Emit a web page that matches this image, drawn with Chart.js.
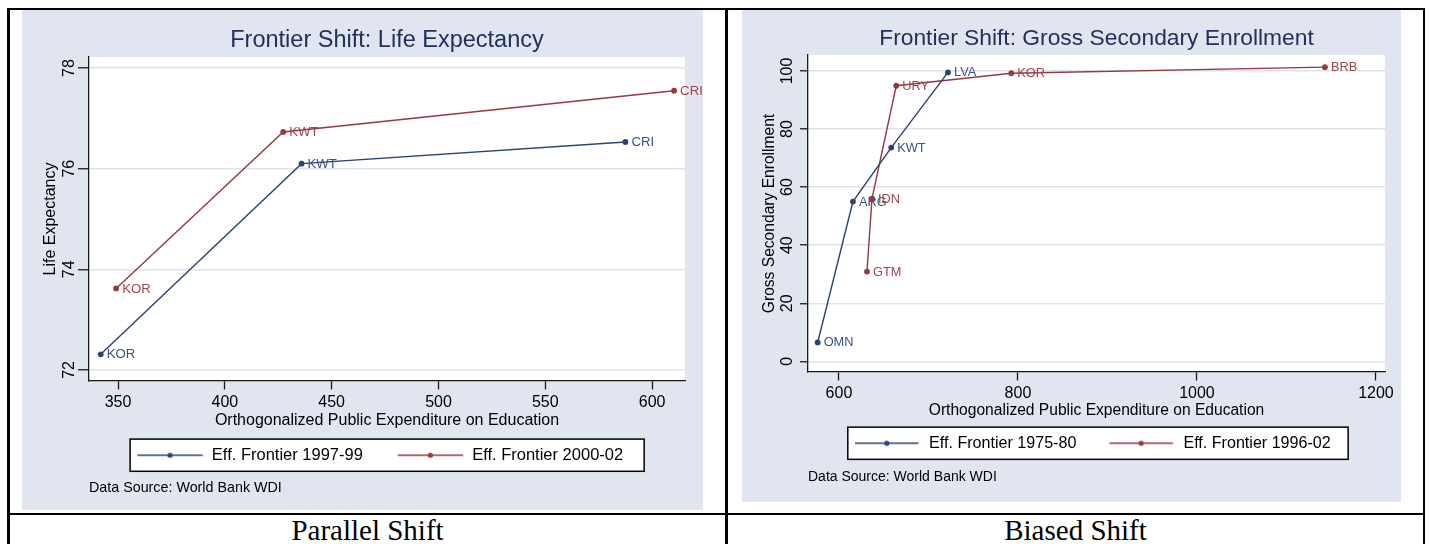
<!DOCTYPE html>
<html>
<head>
<meta charset="utf-8">
<script src="https://cdn.jsdelivr.net/npm/chart.js@4.4.1/dist/chart.umd.min.js"></script>
<style>
  body { margin: 0; background: #fff; width: 1429px; height: 544px; position: relative; overflow: hidden; }
  .rule { position: absolute; background: #000; }
  .panel { position: absolute; }
  .caption { position: absolute; top: 514px; height: 32px; line-height: 32px; text-align: center;
             font: 29px 'Liberation Serif', 'Times New Roman', serif; color: #000; }
</style>
</head>
<body>
<div class="panel" style="left:22px;top:10px;width:681px;height:500px"><canvas id="lifeChart"></canvas></div>
<div class="panel" style="left:742px;top:10px;width:659px;height:492px"><canvas id="enrolChart"></canvas></div>

<div class="rule" style="left:7px;top:8px;width:1418px;height:2px"></div>
<div class="rule" style="left:7px;top:8px;width:3px;height:540px"></div>
<div class="rule" style="left:725px;top:8px;width:3px;height:540px"></div>
<div class="rule" style="left:1423px;top:8px;width:2px;height:540px"></div>
<div class="rule" style="left:7px;top:513px;width:1418px;height:2px"></div>
<div class="caption" style="left:10px;width:715px">Parallel Shift</div>
<div class="caption" style="left:728px;width:695px">Biased Shift</div>

<script>
// Parallel shift: life expectancy frontier
const lifeCountriesA = ['KOR', 'KWT', 'CRI']
const lifeSpendA = [341.9, 435.9, 587.5]
const lifeExpA = [72.31, 76.10, 76.53]
const lifeCountriesB = ['KOR', 'KWT', 'CRI']
const lifeSpendB = [349.1, 427.3, 610.3]
const lifeExpB = [73.62, 76.73, 77.55]
const lifeXTicks = [350, 400, 450, 500, 550, 600]
const lifeYTicks = [72, 74, 76, 78]

// Biased shift: gross secondary enrollment frontier
const enrolCountriesA = ['OMN', 'ARG', 'KWT', 'LVA']
const enrolSpendA = [576.2, 615.6, 658.4, 721.8]
const enrolRateA = [6.5, 55.0, 73.6, 99.5]
const enrolCountriesB = ['GTM', 'IDN', 'URY', 'KOR', 'BRB']
const enrolSpendB = [631.3, 636.9, 664.0, 792.5, 1143.0]
const enrolRateB = [30.9, 56.0, 94.9, 99.2, 101.3]
const enrolXTicks = [600, 800, 1000, 1200]
const enrolYTicks = [0, 20, 40, 60, 80, 100]

const BG = '#e0e5ef'
const GRID = '#dce3ee'
const AXIS = '#1a1a1a'
const TITLE = '#22305e'
const NAVY = '#2b4274'
const NAVY_TEXT = '#3a5287'
const MAROON = '#943a40'
const MAROON_TEXT = '#a0444a'

Chart.defaults.font.family = "'Liberation Sans', Arial, sans-serif"
Chart.defaults.animation = false

function toPoints(xs, ys){
    return xs.map((x, i) => ({x: x, y: ys[i]}))
}

// little line-with-dot sample used as the legend key
function legendMarker(color, width, lineStart, lineLen){
    const c = document.createElement('canvas')
    c.width = width
    c.height = 8
    const g = c.getContext('2d')
    g.strokeStyle = color
    g.lineWidth = 1.3
    g.beginPath()
    g.moveTo(lineStart, 4)
    g.lineTo(lineStart + lineLen, 4)
    g.stroke()
    g.fillStyle = color
    g.beginPath()
    g.arc(lineStart + lineLen / 2, 4, 2.6, 0, Math.PI * 2)
    g.fill()
    return c
}

const panelFill = {
    id: 'panelFill',
    beforeDraw(chart){
        const {ctx, chartArea: a, width, height} = chart
        ctx.save()
        ctx.fillStyle = BG
        ctx.fillRect(0, 0, width, height)
        ctx.fillStyle = '#fff'
        ctx.fillRect(a.left, a.top, a.right - a.left, a.bottom - a.top)
        ctx.restore()
    }
}

const legendFrame = {
    id: 'legendFrame',
    afterLayout(chart, args, opts){
        chart.legend.left += opts.shift
        chart.legend.right += opts.shift
    },
    beforeDraw(chart, args, opts){
        const boxes = chart.legend.legendHitBoxes
        if (!boxes || !boxes.length) return
        const first = boxes[0]
        const last = boxes[boxes.length - 1]
        const mid = first.top + first.height / 2
        const x0 = first.left + opts.lineStart - opts.padLeft
        const x1 = last.left + last.width + opts.padRight
        const ctx = chart.ctx
        ctx.save()
        ctx.fillStyle = '#fff'
        ctx.fillRect(x0, mid - opts.halfHeight, x1 - x0, opts.halfHeight * 2)
        ctx.strokeStyle = '#000'
        ctx.lineWidth = 1.5
        ctx.strokeRect(x0, mid - opts.halfHeight, x1 - x0, opts.halfHeight * 2)
        ctx.restore()
    }
}

const pointLabels = {
    id: 'pointLabels',
    afterDatasetsDraw(chart, args, opts){
        const ctx = chart.ctx
        chart.data.datasets.forEach((ds, i) => {
            const meta = chart.getDatasetMeta(i)
            ctx.save()
            ctx.font = `${opts.size}px 'Liberation Sans', Arial, sans-serif`
            ctx.fillStyle = ds.labelColor
            ctx.textBaseline = 'middle'
            ctx.textAlign = 'left'
            meta.data.forEach((pt, j) => {
                ctx.fillText(ds.countries[j], pt.x + opts.gap, pt.y + 0.5)
            })
            ctx.restore()
        })
    }
}

function makeFrontierChart(element, s){
    const datasets = s.series.map(ser => ({
        label: ser.label,
        data: toPoints(ser.xs, ser.ys),
        countries: ser.countries,
        labelColor: ser.textColor,
        borderColor: ser.color,
        backgroundColor: ser.color,
        borderWidth: 1.4,
        pointRadius: 2.9,
        pointBorderWidth: 0,
        tension: 0
    }))

    return new Chart(element, {
    type: 'line',
    data: { datasets: datasets },
    plugins: [panelFill, legendFrame, pointLabels],
    options: {
        responsive: true,
        maintainAspectRatio: false,
        layout: { padding: { left: 0, top: 0, right: s.padRight, bottom: 0 } },
        scales: {
        x: {
            type: 'linear',
            min: s.xMin,
            max: s.xMax,
            afterBuildTicks: scale => { scale.ticks = s.xTicks.map(v => ({value: v})) },
            afterFit: scale => { scale.height = s.xAxisHeight },
            grid: { drawOnChartArea: false, tickLength: 8.5, tickColor: AXIS, tickWidth: 1.3 },
            border: { color: AXIS, width: 1.3 },
            ticks: {
                color: '#000', font: { size: 16 }, padding: s.xTickPad, maxRotation: 0,
                callback: value => String(value)
            },
            title: {
                display: true, text: s.xTitle, color: '#000',
                font: { size: s.axisTitleSize },
                padding: { top: 0, bottom: s.xTitlePad }
            }
        },
        y: {
            type: 'linear',
            min: s.yMin,
            max: s.yMax,
            afterBuildTicks: scale => { scale.ticks = s.yTicks.map(v => ({value: v})) },
            afterFit: scale => { scale.width = s.yAxisWidth },
            grid: { color: GRID, lineWidth: 1.5, tickLength: s.yTickLen, tickColor: AXIS, tickWidth: 1.3 },
            border: { color: AXIS, width: 1.3 },
            ticks: {
                color: '#000', font: { size: 16 }, padding: s.yTickPad,
                minRotation: 90, maxRotation: 90, crossAlign: 'center',
                callback: value => String(value)
            },
            title: {
                display: true, text: s.yTitle, color: '#000',
                font: { size: s.axisTitleSize },
                padding: { top: s.yTitlePad, bottom: 0 }
            }
        }
        },
        plugins: {
            title: {
                display: true, text: s.title, color: TITLE, fullSize: false,
                font: { size: s.titleSize, weight: 'normal' },
                padding: { top: s.titlePadTop, bottom: s.titlePadBottom }
            },
            subtitle: {
                display: true, text: 'Data Source: World Bank WDI', color: '#000',
                position: 'bottom', align: 'start', fullSize: false,
                font: { size: s.noteSize },
                padding: { top: s.notePadTop, bottom: s.notePadBottom }
            },
            legend: {
                position: 'bottom',
                align: 'start',
                labels: {
                    usePointStyle: true,
                    pointStyleWidth: s.markerWidth,
                    padding: 10,
                    color: '#000',
                    font: { size: s.legendSize },
                    generateLabels: chart => chart.data.datasets.map((ds, i) => ({
                        text: ds.label,
                        fontColor: '#000',
                        pointStyle: legendMarker(ds.borderColor, s.markerWidth, s.markerLineStart, s.markerLineLen),
                        lineWidth: 0,
                        hidden: false,
                        datasetIndex: i
                    }))
                }
            },
            tooltip: { enabled: false },
            legendFrame: {
                shift: s.legendShift, lineStart: s.markerLineStart,
                padLeft: 7.2, padRight: s.legendPadRight, halfHeight: 16.1
            },
            pointLabels: { size: s.labelSize, gap: 6 }
        }
    }
    })
}

makeFrontierChart(document.getElementById('lifeChart'), {
    title: 'Frontier Shift: Life Expectancy',
    xTitle: 'Orthogonalized Public Expenditure on Education',
    yTitle: 'Life Expectancy',
    series: [
        { label: 'Eff. Frontier 1997-99', xs: lifeSpendA, ys: lifeExpA, countries: lifeCountriesA, color: NAVY, textColor: NAVY_TEXT },
        { label: 'Eff. Frontier 2000-02', xs: lifeSpendB, ys: lifeExpB, countries: lifeCountriesB, color: MAROON, textColor: MAROON_TEXT }
    ],
    xMin: 336.4, xMax: 615.4, xTicks: lifeXTicks,
    yMin: 71.78, yMax: 78.22, yTicks: lifeYTicks,
    padRight: 18, yAxisWidth: 67, xAxisHeight: 55.95,
    xTickPad: 3.6, yTickLen: 11, yTickPad: 0,
    xTitlePad: 6.5, yTitlePad: 19,
    titleSize: 23.5, titlePadTop: 16.4, titlePadBottom: 2.4,
    axisTitleSize: 16,
    legendSize: 16.5, markerWidth: 91, markerLineStart: 24.7, markerLineLen: 65.5,
    legendShift: 80.6, legendPadRight: 21,
    noteSize: 14.3, notePadTop: 6.3, notePadBottom: 13.1,
    labelSize: 13.2
})

makeFrontierChart(document.getElementById('enrolChart'), {
    title: 'Frontier Shift: Gross Secondary Enrollment',
    xTitle: 'Orthogonalized Public Expenditure on Education',
    yTitle: 'Gross Secondary Enrollment',
    series: [
        { label: 'Eff. Frontier 1975-80', xs: enrolSpendA, ys: enrolRateA, countries: enrolCountriesA, color: NAVY, textColor: NAVY_TEXT },
        { label: 'Eff. Frontier 1996-02', xs: enrolSpendB, ys: enrolRateB, countries: enrolCountriesB, color: MAROON, textColor: MAROON_TEXT }
    ],
    xMin: 565.4, xMax: 1210.1, xTicks: enrolXTicks,
    yMin: -3.69, yMax: 105.5, yTicks: enrolYTicks,
    padRight: 16, yAxisWidth: 66, xAxisHeight: 53.15,
    xTickPad: 3.2, yTickLen: 8, yTickPad: -0.8,
    xTitlePad: 5.0, yTitlePad: 18.6,
    titleSize: 22.8, titlePadTop: 15.3, titlePadBottom: 2.3,
    axisTitleSize: 15.6,
    legendSize: 16.1, markerWidth: 89, markerLineStart: 23, markerLineLen: 63.6,
    legendShift: 80, legendPadRight: 17.4,
    noteSize: 14, notePadTop: 7.0, notePadBottom: 16.9,
    labelSize: 12.8
})
</script>
</body>
</html>
